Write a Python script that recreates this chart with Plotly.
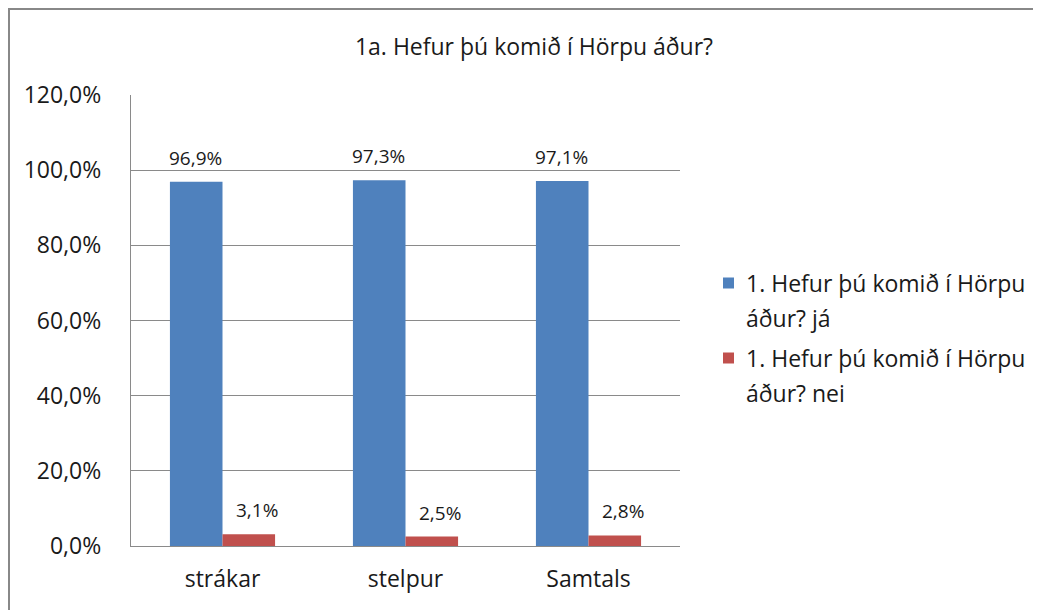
import plotly.graph_objects as go

categories = ["strákar", "stelpur", "Samtals"]
ja_values = [0.969, 0.973, 0.971]
nei_values = [0.031, 0.025, 0.028]
ja_labels = ["96,9%", "97,3%", "97,1%"]
nei_labels = ["3,1%", "2,5%", "2,8%"]
series_names = ["1. Hefur þú komið í Hörpu<br>áður? já", "1. Hefur þú komið í Hörpu<br>áður? nei"]
tick_vals = [0, 0.2, 0.4, 0.6, 0.8, 1.0, 1.2]
tick_text = ["0,0%", "20,0%", "40,0%", "60,0%", "80,0%", "100,0%", "120,0%"]
title_text = "1a. Hefur þú komið í Hörpu áður?"

OFF = 8  # page body margin in the screenshot
W, H = 1041, 610
# plot area in screenshot coordinates
L, R, T, B = 131, 680, 95, 546
FONT = "Open Sans"
TXT = "#1a1a1a"
BLUE = "#4F81BD"
RED = "#C0504D"
GRID = "#8a8a8a"


def px(x):
    return (x - L) / (R - L)


def py(y):
    return (B - y) / (B - T)


fig = go.Figure()
fig.add_trace(go.Bar(x=categories, y=ja_values, name=series_names[0], marker_color=BLUE,
                     marker_line_width=0, showlegend=False))
fig.add_trace(go.Bar(x=categories, y=nei_values, name=series_names[1], marker_color=RED,
                     marker_line_width=0, showlegend=False))

annotations = []
for c, v, t in zip(categories, ja_values, ja_labels):
    annotations.append(dict(x=c, y=v, xref="x", yref="y", text=t, showarrow=False,
                            xshift=-27, yshift=24, yanchor="middle",
                            font=dict(family=FONT, size=19, color=TXT)))
for c, v, t in zip(categories, nei_values, nei_labels):
    annotations.append(dict(x=c, y=v, xref="x", yref="y", text=t, showarrow=False,
                            xshift=34, yshift=24, yanchor="middle",
                            font=dict(family=FONT, size=19, color=TXT)))

# manual legend
shapes = []
legend_rows = [(283, 318, BLUE, series_names[0]), (358, 393, RED, series_names[1])]
for y1, y2, col, name in legend_rows:
    shapes.append(dict(type="rect", xref="paper", yref="paper",
                       x0=px(723), x1=px(734), y0=py(y1 - 5.5), y1=py(y1 + 5.5),
                       fillcolor=col, line=dict(width=0)))
    l1, l2 = name.split("<br>")
    for yy, tx in ((y1, l1), (y2, l2)):
        annotations.append(dict(x=px(744), y=py(yy), xref="paper", yref="paper", text=tx,
                                showarrow=False, xanchor="left", yanchor="middle",
                                font=dict(family=FONT, size=23, color=TXT)))

# outer chart frame: only its left and top edges are visible in the reference
BORDER = dict(color="#888888", width=2)
shapes.append(dict(type="line", xref="paper", yref="paper",
                   x0=px(OFF + 1), x1=px(OFF + 1), y0=py(OFF + H), y1=py(OFF),
                   line=BORDER))
shapes.append(dict(type="line", xref="paper", yref="paper",
                   x0=px(OFF), x1=px(OFF + W), y0=py(OFF + 1), y1=py(OFF + 1),
                   line=BORDER))

fig.update_layout(
    width=W, height=H, autosize=False,
    margin=dict(l=L - OFF, r=W - (R - OFF), t=T - OFF, b=H - (B - OFF), pad=0),
    paper_bgcolor="white", plot_bgcolor="white",
    barmode="group", bargap=0.4255, bargroupgap=0,
    title=dict(text=title_text, x=(534 - OFF) / W, y=1 - (47 - OFF) / H,
               xanchor="center", yanchor="middle",
               font=dict(family=FONT, size=23, color=TXT)),
    font=dict(family=FONT, color=TXT),
    annotations=annotations, shapes=shapes,
    showlegend=False,
)
fig.update_yaxes(range=[0, 1.2], tickvals=tick_vals, ticktext=tick_text,
                 showgrid=True, gridcolor=GRID, gridwidth=1.3,
                 showline=True, linecolor=GRID, linewidth=1.3,
                 ticks="", ticklabelstandoff=24, zeroline=False, automargin=False,
                 tickfont=dict(family=FONT, size=23, color=TXT), fixedrange=True)
fig.update_xaxes(showline=True, linecolor=GRID, linewidth=1.3, ticks="",
                 ticklabelstandoff=12, automargin=False,
                 tickfont=dict(family=FONT, size=23, color=TXT), fixedrange=True)

fig.write_html("out.html")
